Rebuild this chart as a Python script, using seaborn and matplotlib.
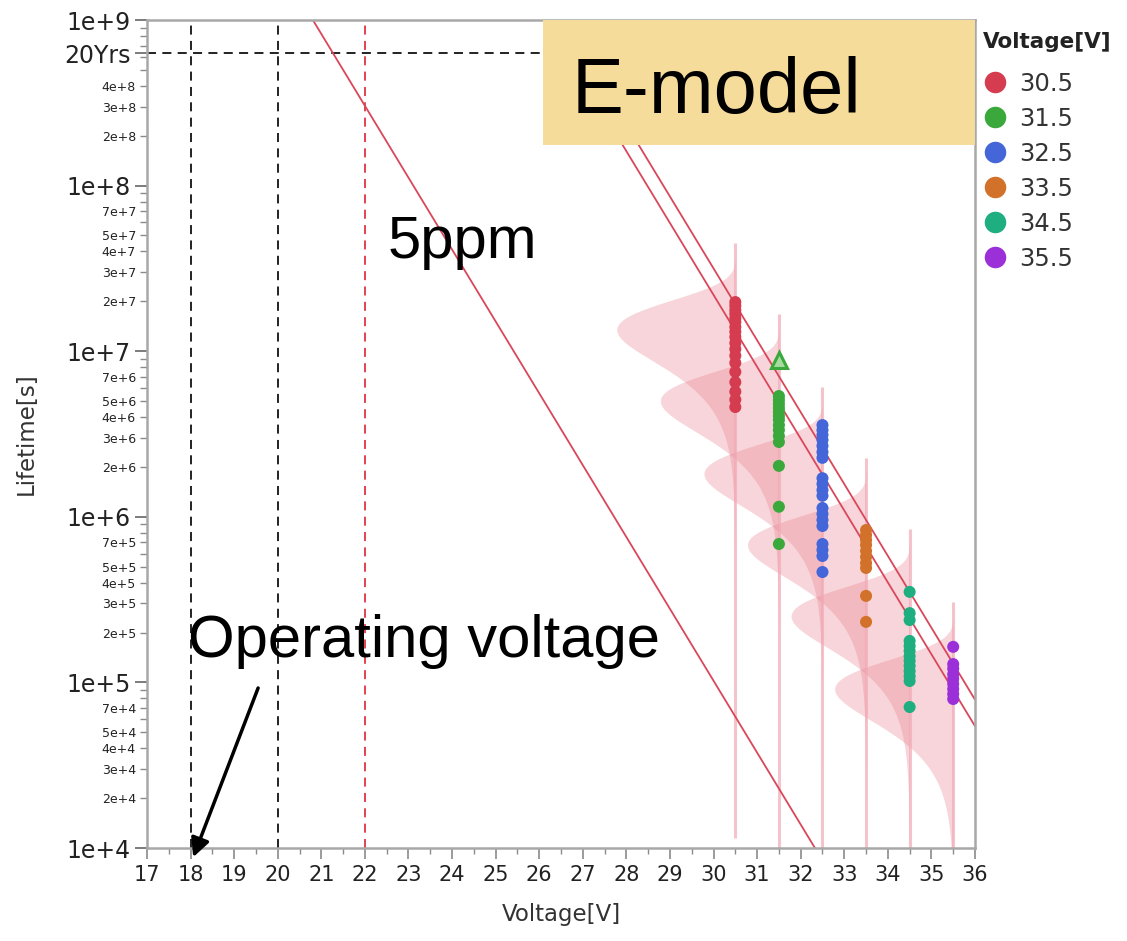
import numpy as np
import pandas as pd
import matplotlib
matplotlib.use("Agg")
import matplotlib.pyplot as plt
import seaborn as sns
from matplotlib.lines import Line2D
from matplotlib.patches import Rectangle
from matplotlib.ticker import FixedLocator, FixedFormatter

# ---------------- data ----------------
voltages = [30.5, 31.5, 32.5, 33.5, 34.5, 35.5]
voltage_labels = ["30.5", "31.5", "32.5", "33.5", "34.5", "35.5"]
group_colors = ["#d63c4f", "#3aa83a", "#4466d8", "#d2722a", "#1fae80", "#9b30d9"]

life_30_5 = [1.98e7, 1.88e7, 1.77e7, 1.68e7, 1.58e7, 1.50e7, 1.40e7, 1.31e7, 1.22e7,
             1.12e7, 1.03e7, 9.4e6, 8.5e6, 7.5e6, 6.5e6, 5.7e6, 5.1e6, 4.6e6]
life_31_5 = [5.36e6, 5.07e6, 4.80e6, 4.54e6, 4.30e6, 4.06e6, 3.85e6, 3.58e6, 3.34e6,
             3.08e6, 2.83e6, 2.03e6, 1.15e6, 6.85e5]
life_32_5 = [3.58e6, 3.34e6, 3.12e6, 2.91e6, 2.68e6, 2.46e6, 2.27e6, 1.71e6, 1.58e6,
             1.45e6, 1.34e6, 1.13e6, 1.04e6, 9.57e5, 8.80e5, 6.85e5, 6.31e5, 5.80e5, 4.64e5]
life_33_5 = [8.32e5, 7.76e5, 7.24e5, 6.76e5, 6.22e5, 5.72e5, 5.26e5, 4.91e5, 3.33e5, 2.32e5]
life_34_5 = [3.52e5, 2.62e5, 2.38e5, 1.78e5, 1.66e5, 1.55e5, 1.44e5, 1.35e5, 1.26e5,
             1.17e5, 1.09e5, 1.02e5, 7.10e4]
life_35_5 = [1.64e5, 1.29e5, 1.21e5, 1.12e5, 1.05e5, 9.78e4, 9.12e4, 8.51e4, 7.94e4]

censored_voltage = [31.5]
censored_life = [8.85e6]

# fitted E-model (log10 lifetime = intercept - slope * V)
model_slope = 0.434
line_5ppm_intercept = 18.03
line_mode_intercept = 20.36
line_upper_intercept = 20.52

# per-voltage fitted lifetime distributions (smallest-extreme-value in log10)
density_modes = [7.13, 6.70, 6.26, 5.83, 5.40, 4.96]
density_sigma = 0.19
density_width = 2.72
span_above = 0.525
span_below = 3.07

twenty_years = 20 * 365.25 * 86400
operating_voltage = 18
ref_voltage = 20
ppm_voltage = 22

x_ticks = list(range(17, 37))
y_major = [1e4, 1e5, 1e6, 1e7, 1e8, 1e9, twenty_years]
y_major_labels = ["1e+4", "1e+5", "1e+6", "1e+7", "1e+8", "1e+9", "20Yrs"]
y_minor = [m * 10.0 ** e for e in range(4, 9) for m in range(2, 10)]
y_minor_labels = []
for e in range(4, 9):
    for m in range(2, 10):
        if m in (2, 3, 4) or (m in (5, 7) and e < 8):
            y_minor_labels.append(f"{m}e+{e}")
        else:
            y_minor_labels.append("")

# ---------------- build table ----------------
all_life = [life_30_5, life_31_5, life_32_5, life_33_5, life_34_5, life_35_5]
rows = []
for v, lab, vals in zip(voltages, voltage_labels, all_life):
    for t in vals:
        rows.append({"Voltage": v, "Lifetime": t, "Group": lab})
df = pd.DataFrame(rows)

# ---------------- figure ----------------
sns.set_style("white")
plt.rcParams["font.family"] = ["DejaVu Sans"]

fig = plt.figure(figsize=(11.27, 9.41), dpi=100)
ax = fig.add_axes([147 / 1127, 1 - 848 / 941, 828 / 1127, 828 / 941])
ax.set_yscale("log")
ax.set_xlim(17, 36)
ax.set_ylim(1e4, 1e9)

# densities and vertical ranges
fill_color = "#e8808f"
for v, mode in zip(voltages, density_modes):
    yl = np.linspace(mode - span_below, mode + span_above, 600)
    z = (yl - mode) / density_sigma
    f = np.exp(z - np.exp(z)) / np.exp(-1.0)
    ax.fill_betweenx(10 ** yl, v - density_width * f, v, color=fill_color,
                     alpha=0.33, lw=0, zorder=1)
    ax.plot([v, v], [10 ** (mode - span_below), 10 ** (mode + span_above)],
            color="#f2aab5", lw=2.2, alpha=0.7, zorder=1.5, solid_capstyle="butt")

# reference dashed lines
dash = (0, (5, 3.5))
ax.axvline(operating_voltage, color="#111111", ls=dash, lw=1.3, zorder=2)
ax.axvline(ref_voltage, color="#111111", ls=dash, lw=1.3, zorder=2)
ax.axvline(ppm_voltage, color="#e03444", ls=dash, lw=1.3, zorder=2)
ax.axhline(twenty_years, color="#111111", ls=dash, lw=1.3, zorder=2)

# model lines
vv = np.array([17.0, 36.0])
for a in (line_5ppm_intercept, line_mode_intercept, line_upper_intercept):
    ax.plot(vv, 10 ** (a - model_slope * vv), color="#d9475a", lw=1.3, zorder=2.5)

# points
sns.scatterplot(data=df, x="Voltage", y="Lifetime", hue="Group",
                hue_order=voltage_labels, palette=group_colors, s=75,
                edgecolor="none", linewidth=0, legend=False, ax=ax, zorder=4)
ax.plot(censored_voltage, censored_life, marker="^", ls="none", markersize=11,
        markerfacecolor="#a6dc9e", markeredgecolor="#3aa83a", markeredgewidth=2.2,
        zorder=4)

# ticks
ax.xaxis.set_major_locator(FixedLocator(x_ticks))
ax.xaxis.set_minor_locator(FixedLocator([t + 0.5 for t in x_ticks[:-1]]))
ax.set_xticklabels([str(t) for t in x_ticks])
ax.yaxis.set_major_locator(FixedLocator(y_major))
ax.yaxis.set_major_formatter(FixedFormatter(y_major_labels))
ax.yaxis.set_minor_locator(FixedLocator(y_minor))
ax.yaxis.set_minor_formatter(FixedFormatter(y_minor_labels))

ax.tick_params(axis="x", which="major", length=8, width=1.2, color="#8a8a8a",
               labelsize=15, labelcolor="#222222", pad=4, direction="out", bottom=True)
ax.tick_params(axis="x", which="minor", length=4, width=1.0, color="#8a8a8a",
               direction="out", bottom=True)
ax.tick_params(axis="y", which="major", length=9, width=1.2, color="#666666",
               labelsize=17, labelcolor="#222222", pad=3, direction="out", left=True)
ax.tick_params(axis="y", which="minor", length=5, width=1.0, color="#8a8a8a",
               labelsize=9, labelcolor="#222222", pad=3, direction="out", left=True)

for s in ax.spines.values():
    s.set_color("#a8a8a8")
    s.set_linewidth(1.8)

ax.set_xlabel("Voltage[V]", fontsize=16.5, color="#333333")
ax.set_ylabel("Lifetime[s]", fontsize=16.5, color="#333333")
ax.xaxis.set_label_coords(0.5, -0.066)
ax.yaxis.set_label_coords(-0.1316, 0.5)

# annotations
ax.add_patch(Rectangle((0.478, 0.849), 0.522, 0.151, transform=ax.transAxes,
                       facecolor="#f5dc9a", edgecolor="none", zorder=6))
ax.text(0.513, 0.888, "E-model", transform=ax.transAxes, fontsize=56,
        family="Liberation Sans", va="baseline", ha="left", color="black", zorder=7)
ax.text(0.291, 0.7126, "5ppm", transform=ax.transAxes, fontsize=43,
        family="Liberation Sans", va="baseline", ha="left", color="black", zorder=7)
ax.text(0.0495, 0.2307, "Operating voltage", transform=ax.transAxes, fontsize=43,
        family="Liberation Sans", va="baseline", ha="left", color="black", zorder=7)
ax.annotate("", xy=(18.06, 8.8e3), xytext=(19.55, 9.25e4),
            arrowprops=dict(arrowstyle="-|>", color="black", lw=2.5,
                            mutation_scale=28, shrinkA=0, shrinkB=0),
            annotation_clip=False, zorder=7)

# legend
fig.text(983 / 1127, 1 - 42 / 941, "Voltage[V]", fontsize=15.5, weight="bold",
         color="#222222", ha="left", va="center")
handles = [Line2D([0], [0], marker="o", ls="none", markersize=15.5,
                  markerfacecolor=c, markeredgecolor="none") for c in group_colors]
leg = fig.legend(handles, voltage_labels, loc="upper left",
                 bbox_to_anchor=(983 / 1127, 1 - 72 / 941), frameon=False,
                 fontsize=17.5, borderpad=0, borderaxespad=0,
                 handlelength=1.0, handletextpad=0.5, labelspacing=0.45)
for t in leg.get_texts():
    t.set_color("#333333")

fig.savefig("out.png", dpi=100)
